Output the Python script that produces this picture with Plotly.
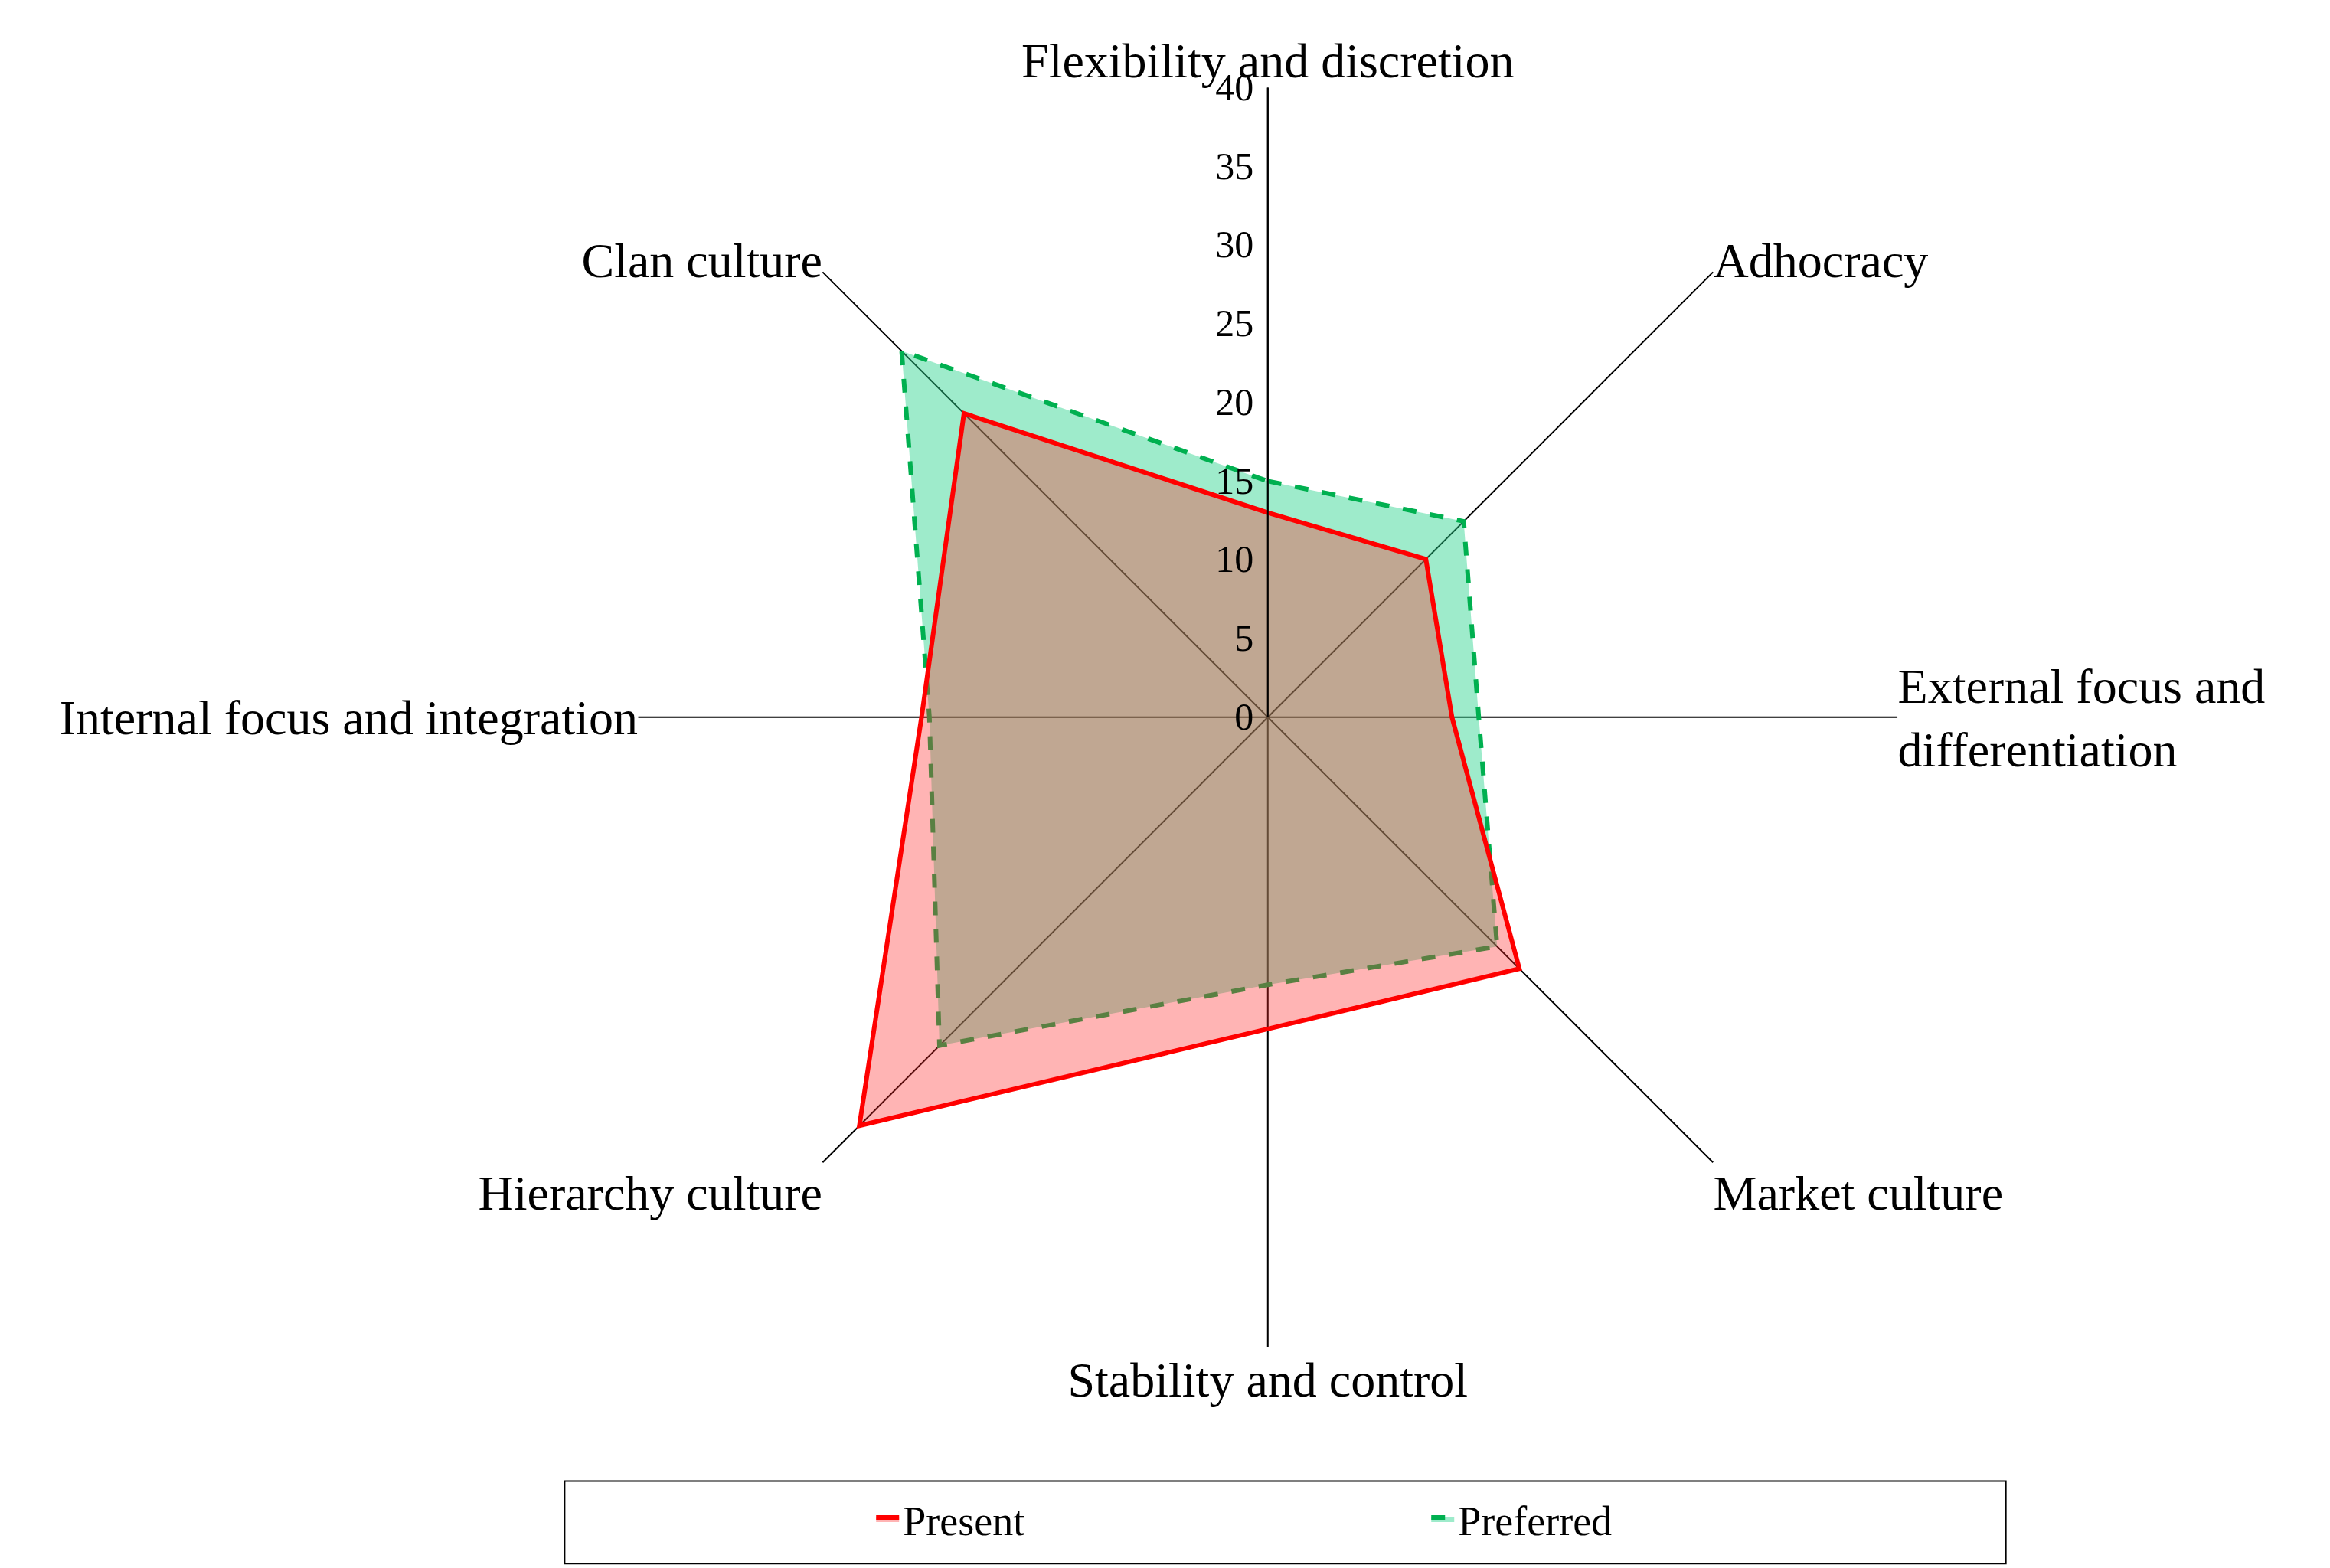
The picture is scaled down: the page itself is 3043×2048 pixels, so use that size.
import plotly.graph_objects as go

categories = ["Flexibility and discretion", "Adhocracy", "External focus and<br>differentiation",
              "Market culture", "Stability and control", "Hierarchy culture",
              "Internal focus and integration", "Clan culture"]
present = [13, 14.2, 11.7, 22.6, 19.8, 36.7, 22, 27.3]
preferred = [15, 17.6, 13.4, 20.6, 17, 29.5, 21.5, 32.9]
radial_ticks = [0, 5, 10, 15, 20, 25, 30, 35, 40]

F = "Liberation Serif, Times New Roman, serif"
fig = go.Figure()
fig.add_trace(go.Scatterpolar(r=preferred + preferred[:1], theta=categories + categories[:1], name="Preferred",
                              mode="lines", fill="toself", fillcolor="rgba(40,210,140,0.45)",
                              line=dict(color="#00b050", width=6, dash="dash")))
fig.add_trace(go.Scatterpolar(r=present + present[:1], theta=categories + categories[:1], name="Present",
                              mode="lines", fill="toself", fillcolor="rgba(255,40,40,0.35)",
                              line=dict(color="#ff0000", width=6)))
fig.update_layout(
    width=3043, height=2048, paper_bgcolor="white", plot_bgcolor="white",
    margin=dict(l=0, r=0, t=0, b=0),
    font=dict(family=F, size=64, color="black"),
    polar=dict(
        domain=dict(x=[0.271, 0.812], y=[0.145, 0.948]),
        bgcolor="white",
        angularaxis=dict(rotation=90, direction="clockwise", showline=False, showgrid=True,
                         gridcolor="black", gridwidth=2, ticks="", tickfont=dict(size=64, family=F)),
        radialaxis=dict(range=[0, 40], tickvals=radial_ticks, angle=90, tickangle=90, showgrid=False,
                        showline=True, linecolor="black", linewidth=2, ticks="",
                        side="counterclockwise", tickfont=dict(size=50, family=F)),
    ),
    legend=dict(orientation="h", traceorder="reversed", x=0.61, xanchor="center", y=0.035, yanchor="middle",
                font=dict(size=54, family=F), entrywidth=680, bgcolor="rgba(0,0,0,0)"),
    shapes=[dict(type="rect", xref="paper", yref="paper", x0=372/1552, x1=1332/1552,
                 y0=1-1037/1044, y1=1-982/1044, line=dict(color="black", width=2))],
)
fig.write_html("out.html")
